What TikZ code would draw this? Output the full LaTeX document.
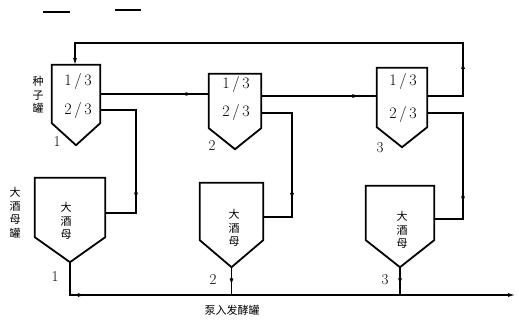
\documentclass[tikz,border=0pt]{standalone}
\usepackage{fontspec}
\newfontfamily\cjk{Noto Sans CJK SC}
\usetikzlibrary{calc,decorations.markings,arrows.meta}
\begin{document}
\begin{tikzpicture}[x=1pt,y=-1pt,
  box/.style={draw=none,inner sep=0pt},
  tankline/.style={line width=1.8pt,line join=miter},
  pipe/.style={line width=1.1pt},
  tip/.style={-{Latex[length=7pt,width=4pt]}},
  midarrow/.style={postaction={decorate},decoration={markings,mark=at position #1 with {\arrow{Latex[length=7pt,width=4pt]}}}},
  num/.style={font=\fontsize{15}{15}\selectfont,inner sep=0pt},
  frac/.style={font=\fontsize{16}{16}\selectfont,inner sep=0pt},
  cjklab/.style={font=\cjk\fontsize{11}{13.5}\selectfont,align=center,inner sep=0pt}]
\useasboundingbox (0,0) rectangle (519,322);
% stray marks at top
\draw[line width=1.6pt] (43,12) -- (70,12);
\draw[line width=1.6pt] (115,10) -- (141,10);
% seed tanks
\node[box,minimum width=48pt,minimum height=58pt] (s1) at (76,94) {};
\node[box,minimum width=52pt,minimum height=54pt] (s2) at (235,101) {};
\node[box,minimum width=50pt,minimum height=59pt] (s3) at (402,97.5) {};
\draw[tankline] (s1.south west) -- (s1.north west) -- (s1.north east) -- (s1.south east) -- ($(s1.south)+(0,22)$) -- cycle;
\draw[tankline] (s2.south west) -- (s2.north west) -- (s2.north east) -- (s2.south east) -- ($(s2.south)+(0,21)$) -- cycle;
\draw[tankline] (s3.south west) -- (s3.north west) -- (s3.north east) -- (s3.south east) -- ($(s3.south)+(0,20)$) -- cycle;
% big yeast tanks
\node[box,minimum width=70pt,minimum height=59pt] (b1) at (70,207.5) {};
\node[box,minimum width=63pt,minimum height=57pt] (b2) at (231.5,211.5) {};
\node[box,minimum width=68pt,minimum height=54pt] (b3) at (400,213) {};
\draw[tankline] (b1.south west) -- (b1.north west) -- (b1.north east) -- (b1.south east) -- ($(b1.south)+(0,25)$) coordinate (t1) -- cycle;
\draw[tankline] (b2.south west) -- (b2.north west) -- (b2.north east) -- (b2.south east) -- ($(b2.south)+(0,27)$) coordinate (t2) -- cycle;
\draw[tankline] (b3.south west) -- (b3.north west) -- (b3.north east) -- (b3.south east) -- ($(b3.south)+(0,27)$) coordinate (t3) -- cycle;
% texts in seed tanks
\node[frac] (f1a) at (78,81) {1\,/\,3};
\node[frac] (f1b) at (78,110) {2\,/\,3};
\node[frac] (f2a) at (236,84) {1\,/\,3};
\node[frac] (f2b) at (236,112) {2\,/\,3};
\node[frac] (f3a) at (403,81) {1\,/\,3};
\node[frac] (f3b) at (403,114) {2\,/\,3};
% texts in big tanks
\node[cjklab] (y1) at (66,221) {大\\酒\\母};
\node[cjklab] (y2) at (234,228) {大\\酒\\母};
\node[cjklab] (y3) at (402,230) {大\\酒\\母};
% numbers
\node[num] (n1) at (57,142) {1};
\node[num] (n2) at (212,146) {2};
\node[num] (n3) at (380,148) {3};
\node[num] (m1) at (55,277) {1};
\node[num] (m2) at (213,280) {2};
\node[num] (m3) at (385,280) {3};
% side labels
\node[cjklab] (lseed) at (38,95) {种\\子\\罐};
\node[cjklab] (lbig) at (15,213) {大\\酒\\母\\罐};
\node[cjklab] (lpump) at (232,310) {泵入发酵罐};
% coordinates for pipes
\coordinate (c1) at (463,96);
\coordinate (c2) at (463,43);
\coordinate (c3) at (75,43);
\coordinate (c4) at (75,65);
\coordinate (d1) at (136,110);
\coordinate (d2) at (136,213);
\coordinate (e1) at (292,113);
\coordinate (e2) at (292,217);
\coordinate (g1) at (463,113);
\coordinate (g2) at (463,219);
\coordinate (h1) at (70,295);
\coordinate (hend) at (515,295);
% top loop
\draw[pipe,midarrow=0.14,tip] (s3.east |- c1) -- (c1) -- (c2) -- (c3) -- (c4);
% seed to seed
\draw[pipe,midarrow=0.85] (s1.east |- 0,94) -- (s2.west |- 0,94);
\draw[pipe,midarrow=0.85] (s2.east |- 0,96) -- (s3.west |- 0,96);
% seed to big tanks
\draw[pipe,midarrow=0.74] (s1.east |- d1) -- (d1) -- (d2) -- (b1.east |- d2);
\draw[pipe,midarrow=0.72] (s2.east |- e1) -- (e1) -- (e2) -- (b2.east |- e2);
\draw[pipe,midarrow=0.74] (s3.east |- g1) -- (g1) -- (g2) -- (b3.east |- g2);
% bottom collector
\draw[pipe,midarrow=0.1,tip] (t1) -- (h1) -- (hend);
\draw[pipe,midarrow=0.65] (t2) -- (t2 |- h1);
\draw[pipe,midarrow=0.65] (t3) -- (t3 |- h1);
\end{tikzpicture}
\end{document}
